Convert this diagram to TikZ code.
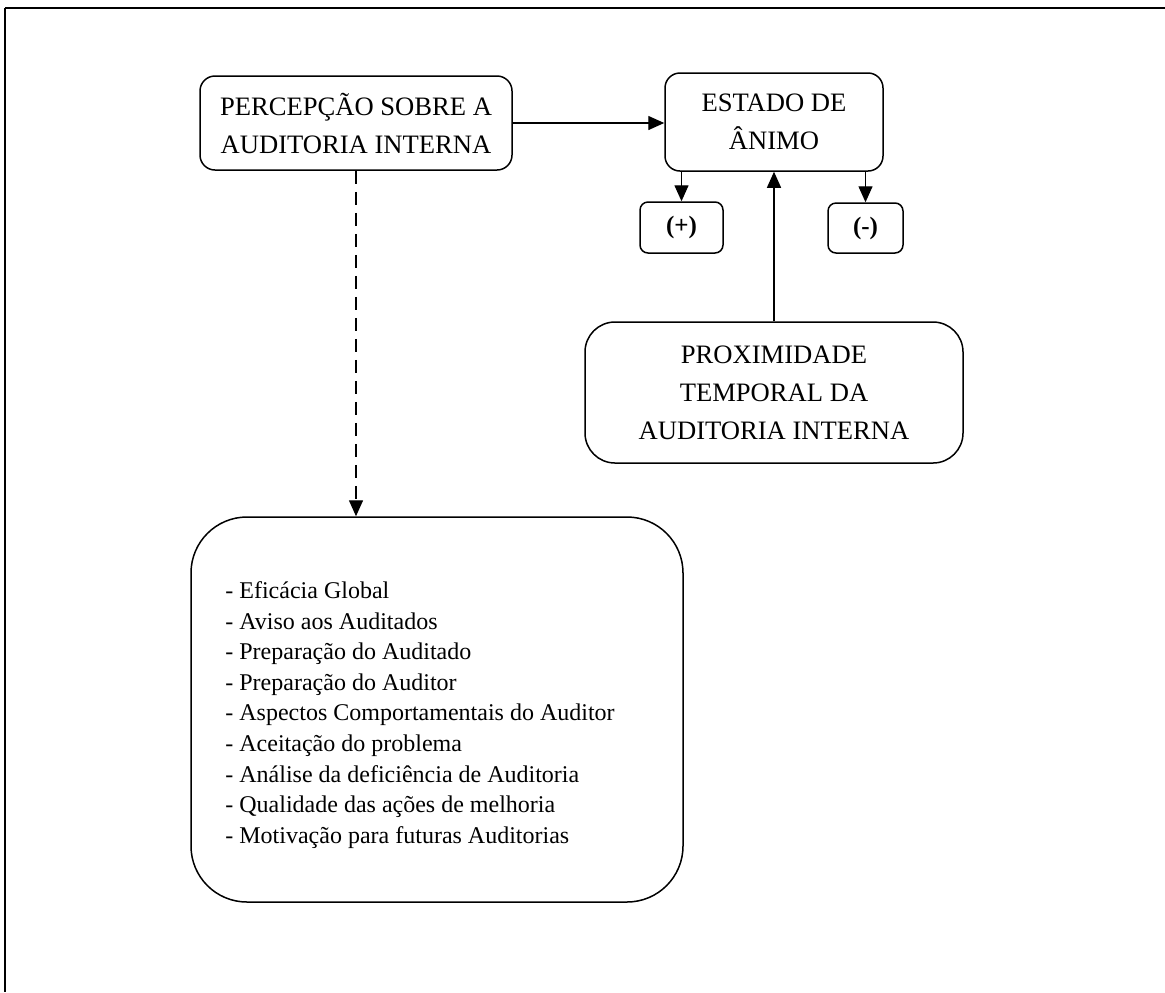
\documentclass[tikz,border=0pt]{standalone}
\usepackage{fontspec}
\setmainfont{Liberation Serif}
\usepackage{tikz}
\usetikzlibrary{arrows.meta, positioning, calc}

\begin{document}
\begin{tikzpicture}[
  x=0.5pt, y=-0.5pt,
  cbox/.style={draw, line width=0.75pt, rounded corners=7.5pt, align=center, inner sep=0pt, font=\fontsize{13.3}{19}\selectfont},
  sbox/.style={draw, line width=0.75pt, rounded corners=4pt, inner sep=0pt, font=\bfseries\fontsize{12.5}{14}\selectfont},
  arr/.style={line width=0.7pt, -{Triangle[length=8pt, width=7pt]}}
]
  \useasboundingbox (0,0) rectangle (1165,992);
  \draw[line width=1.2pt] (5,8) -- (1165,8);
  \draw[line width=1pt] (5,8) -- (5,992);

  \node[cbox, minimum width=156pt, minimum height=47pt] (perc) at (356,123) {PERCEPÇÃO SOBRE A\\AUDITORIA INTERNA};
  \node[cbox, minimum width=109pt, minimum height=49pt] (est) at (774,122) {ESTADO DE\\ÂNIMO};
  \node[sbox, minimum width=41.5pt, minimum height=25.5pt] (plus) at (681.5,227.5) {(+)};
  \node[sbox, minimum width=37.5pt, minimum height=25pt] (minus) at (865.5,228) {(-)};
  \node[cbox, rounded corners=15pt, minimum width=189pt, minimum height=70.5pt] (prox) at (774,392.5) {PROXIMIDADE\\TEMPORAL DA\\AUDITORIA INTERNA};
  \node[draw, line width=0.75pt, rounded corners=28pt, minimum width=246pt, minimum height=192.5pt] (lst) at (437,709.5) {};
  \node[anchor=west, align=left, inner sep=0pt, font=\fontsize{12}{15.3}\selectfont] (items) at (225,715) {%
    - Eficácia Global\\
    - Aviso aos Auditados\\
    - Preparação do Auditado\\
    - Preparação do Auditor\\
    - Aspectos Comportamentais do Auditor\\
    - Aceitação do problema\\
    - Análise da deficiência de Auditoria\\
    - Qualidade das ações de melhoria\\
    - Motivação para futuras Auditorias};

  \draw[arr] (perc.east) -- (perc.east -| est.west);
  \draw[arr] (plus.north |- est.south) -- (plus.north);
  \draw[arr] (minus.north |- est.south) -- (minus.north);
  \draw[arr] (prox.north) -- (est.south);
  \draw[arr, dash pattern=on 6.5pt off 4pt] (perc.south) -- (perc.south |- lst.north);
\end{tikzpicture}
\end{document}
